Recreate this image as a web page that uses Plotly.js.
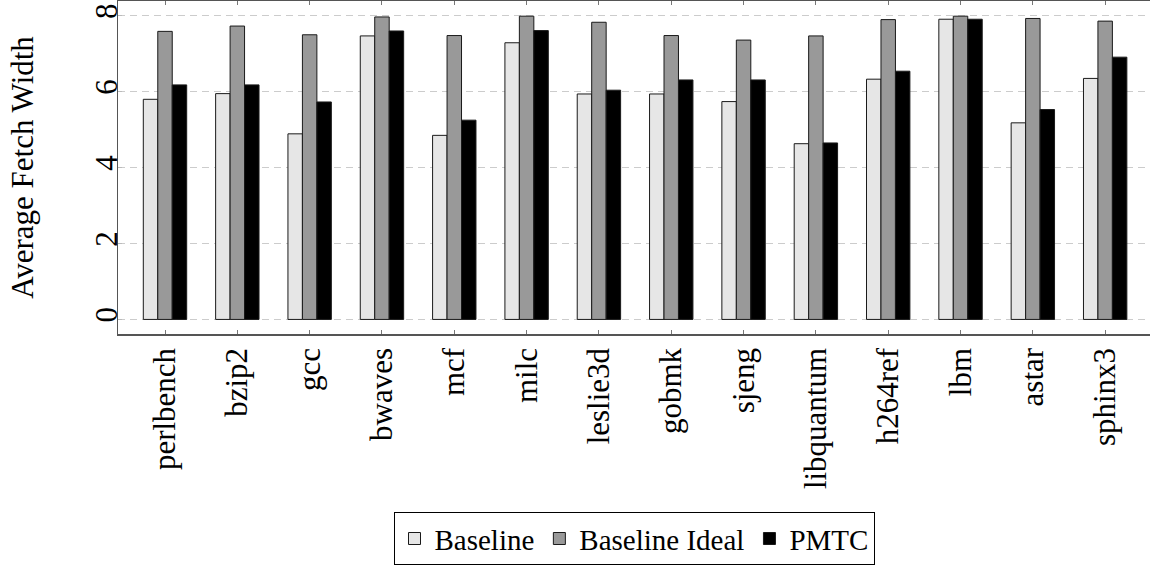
<!DOCTYPE html>
<html>
<head>
<meta charset="utf-8">
<script src="https://cdn.plot.ly/plotly-3.0.1.min.js"></script>
<style>html,body{margin:0;padding:0;background:#fff;}#chart{width:1150px;height:569px;}</style>
</head>
<body>
<div id="chart"></div>
<script>
const categories = ["perlbench","bzip2","gcc","bwaves","mcf","milc","leslie3d","gobmk","sjeng","libquantum","h264ref","lbm","astar","sphinx3"];
const baseline      = [5.80, 5.95, 4.89, 7.47, 4.85, 7.29, 5.94, 5.94, 5.74, 4.63, 6.33, 7.91, 5.18, 6.35];
const baselineIdeal = [7.59, 7.73, 7.50, 7.97, 7.48, 7.99, 7.83, 7.48, 7.36, 7.47, 7.90, 7.99, 7.93, 7.86];
const pmtc          = [6.18, 6.18, 5.73, 7.60, 5.25, 7.61, 6.04, 6.31, 6.31, 4.65, 6.54, 7.91, 5.53, 6.91];
const seriesNames = ["Baseline", "Baseline Ideal", "PMTC"];
const yTicks = [0, 2, 4, 6, 8];

const FONT = "Liberation Serif";
const colors = ["#e6e6e6", "#999999", "#000000"];
const data = [baseline, baselineIdeal, pmtc].map((vals, i) => ({
  type: "bar",
  name: seriesNames[i],
  x: categories,
  y: vals,
  marker: {color: colors[i], line: {color: "#1a1a1a", width: 1}}
}));

const layout = {
  width: 1150, height: 569,
  margin: {l: 118, r: 0, t: 1, b: 235, autoexpand: false},
  paper_bgcolor: "#fff", plot_bgcolor: "#fff",
  font: {family: FONT, size: 31, color: "#000"},
  barmode: "group", bargap: 0.4, bargroupgap: 0,
  showlegend: true,
  legend: {
    orientation: "h", x: 0.5, xanchor: "center", y: -0.535, yanchor: "top",
    bordercolor: "#000", borderwidth: 1, bgcolor: "#fff",
    font: {family: FONT, size: 29, color: "#000"},
    itemwidth: 30, tracegroupgap: 0
  },
  xaxis: {
    type: "category", range: [-0.65, 13.62], automargin: false,
    showline: true, linecolor: "#555", linewidth: 1.5, mirror: "ticks",
    ticks: "inside", ticklen: 4, tickcolor: "#777", tickwidth: 1,
    tickangle: -90, showgrid: false, zeroline: false,
    tickfont: {family: FONT, size: 31, color: "#000"}
  },
  yaxis: {
    range: [-0.384, 8.39], tickvals: yTicks, ticktext: yTicks.map(String), automargin: false,
    showline: true, linecolor: "#555", linewidth: 1.5, mirror: false,
    ticks: "inside", ticklen: 4, tickcolor: "#bbb", tickwidth: 1,
    tickangle: -90, ticklabelstandoff: -13,
    showgrid: true, gridcolor: "#cccccc", gridwidth: 1.3, griddash: "7px,5px",
    zeroline: false,
    tickfont: {family: FONT, size: 31, color: "#000"},
    title: {text: "Average Fetch Width", standoff: 46, font: {family: FONT, size: 31, color: "#000"}}
  }
};
Plotly.newPlot("chart", data, layout, {staticPlot: true, displayModeBar: false});
</script>
</body>
</html>
